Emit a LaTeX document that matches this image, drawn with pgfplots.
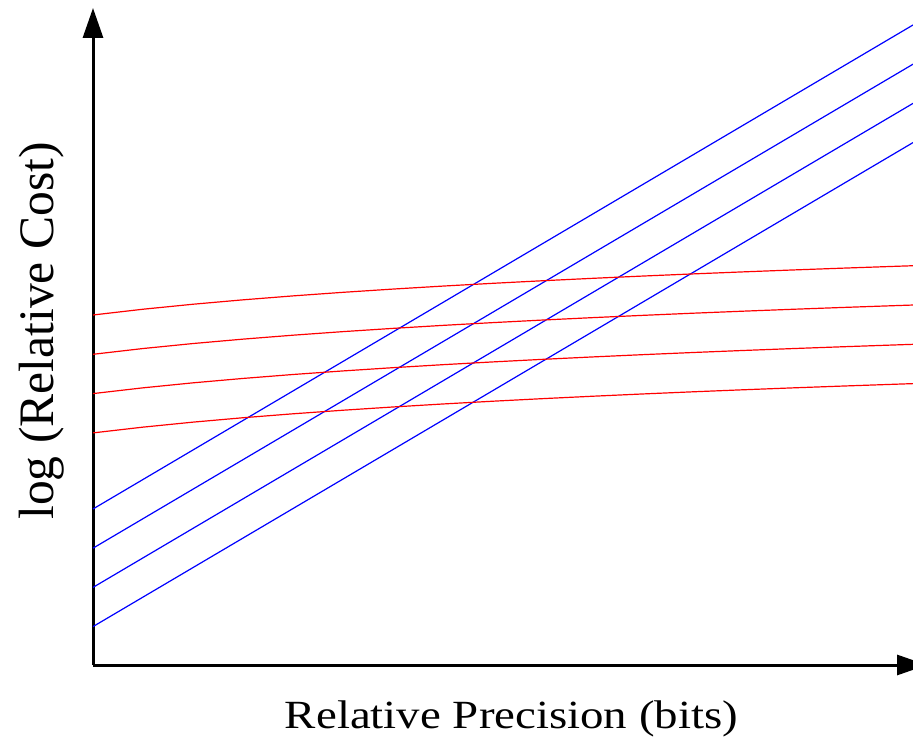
\documentclass[border=0pt]{standalone}
\usepackage{pgfplots}
\pgfplotsset{compat=1.18}
\usepackage{graphicx}
\usepackage{fontspec}
\setmainfont{Liberation Serif}
\usetikzlibrary{arrows.meta}
\begin{document}
\begin{tikzpicture}
\path[use as bounding box] (-46.5pt,-39pt) rectangle (410pt,332.5pt);
\clip (-46.5pt,-39pt) rectangle (410pt,332.5pt);
\begin{axis}[
  at={(0pt,0pt)}, anchor=south west,
  scale only axis, width=417pt, height=328.5pt,
  xmin=0, xmax=834, ymin=0, ymax=657,
  axis lines=left,
  axis line style={line width=1.5pt, -{Triangle[length=15pt,width=10pt]}},
  xtick=\empty, ytick=\empty,
  clip=false,
  xlabel={\fontsize{20pt}{24pt}\selectfont\scalebox{1.172}[1]{Relative Precision (bits)}},
  ylabel={\fontsize{24.8pt}{28pt}\selectfont log (Relative Cost)},
  xlabel style={at={(axis description cs:0.5018,-0.0974)}, anchor=base},
  ylabel style={at={(axis description cs:-0.0468,0.5084)}, anchor=base},
  every axis plot/.append style={line width=0.6pt},
]
% blue (straight) lines
\addplot[blue] coordinates {(0,156) (820,640)};
\addplot[blue] coordinates {(0,116.8) (820,600.8)};
\addplot[blue] coordinates {(0,77.6) (820,561.6)};
\addplot[blue] coordinates {(0,38.4) (820,522.4)};
% red (slowly rising) curves
\addplot[red] coordinates {(0,350) (50,355.77) (100,360.76) (150,365.16) (200,369.10) (250,372.67) (300,375.92) (350,378.92) (400,381.69) (450,384.27) (500,386.68) (550,388.95) (600,391.09) (650,393.11) (700,395.03) (750,396.85) (800,398.59) (820,399.27)};
\addplot[red] coordinates {(0,310.7) (50,316.47) (100,321.46) (150,325.86) (200,329.80) (250,333.37) (300,336.62) (350,339.62) (400,342.39) (450,344.97) (500,347.38) (550,349.65) (600,351.79) (650,353.81) (700,355.73) (750,357.55) (800,359.29) (820,359.97)};
\addplot[red] coordinates {(0,271.4) (50,277.17) (100,282.16) (150,286.56) (200,290.50) (250,294.07) (300,297.32) (350,300.32) (400,303.09) (450,305.67) (500,308.08) (550,310.35) (600,312.49) (650,314.51) (700,316.43) (750,318.25) (800,319.99) (820,320.67)};
\addplot[red] coordinates {(0,232.1) (50,237.87) (100,242.86) (150,247.26) (200,251.20) (250,254.77) (300,258.02) (350,261.02) (400,263.79) (450,266.37) (500,268.78) (550,271.05) (600,273.19) (650,275.21) (700,277.13) (750,278.95) (800,280.69) (820,281.37)};
\end{axis}
\end{tikzpicture}
\end{document}
